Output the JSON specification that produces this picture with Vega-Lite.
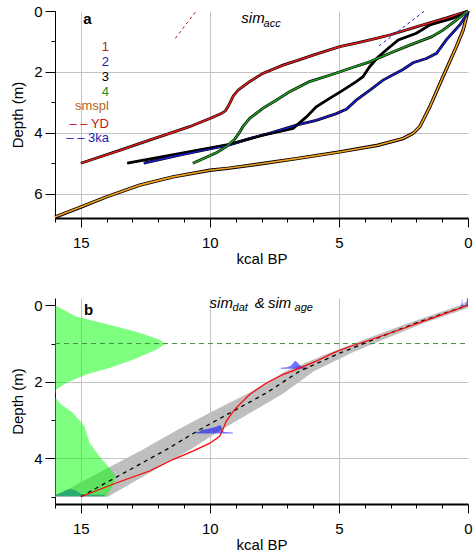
{
"$schema": "https://vega.github.io/schema/vega-lite/v6.json",
"padding": {"left": 10, "top": 4, "right": 0, "bottom": 0},
"spacing": 29,
"config": {
  "font": "Liberation Sans",
  "view": {"stroke": null},
  "axis": {"domainColor": "#000", "tickColor": "#000", "labelColor": "#000", "titleColor": "#000", "labelFontSize": 15, "titleFontSize": 15, "titleFontWeight": "normal", "gridColor": "#c4c4c4", "labelOverlap": false, "labelFlush": false}
},
"datasets": {
  "smspl": [
    {"age": 0, "depth": 0}, {"age": 0.19, "depth": 0.63}, {"age": 0.45, "depth": 1.17}, {"age": 0.97, "depth": 2.16}, {"age": 1.48, "depth": 3.15}, {"age": 1.87, "depth": 3.8}, {"age": 2.13, "depth": 4.02}, {"age": 2.52, "depth": 4.19}, {"age": 3.49, "depth": 4.41}, {"age": 4.97, "depth": 4.63}, {"age": 6.65, "depth": 4.85}, {"age": 7.95, "depth": 5.01}, {"age": 9.24, "depth": 5.16}, {"age": 10.0, "depth": 5.23}, {"age": 11.43, "depth": 5.45}, {"age": 12.72, "depth": 5.72}, {"age": 14.02, "depth": 6.11}, {"age": 15.0, "depth": 6.44}, {"age": 16.0, "depth": 6.77}
  ],
  "acc": [
    {"s": "1", "age": 0, "depth": 0}, {"s": "1", "age": 0.8, "depth": 0.22}, {"s": "1", "age": 2.0, "depth": 0.52}, {"s": "1", "age": 3.0, "depth": 0.78}, {"s": "1", "age": 3.55, "depth": 0.9}, {"s": "1", "age": 4.3, "depth": 1.05}, {"s": "1", "age": 4.97, "depth": 1.17}, {"s": "1", "age": 6.0, "depth": 1.45}, {"s": "1", "age": 6.6, "depth": 1.62}, {"s": "1", "age": 7.17, "depth": 1.78}, {"s": "1", "age": 7.95, "depth": 2.05}, {"s": "1", "age": 8.46, "depth": 2.32}, {"s": "1", "age": 8.75, "depth": 2.5}, {"s": "1", "age": 8.91, "depth": 2.6}, {"s": "1", "age": 9.1, "depth": 2.8}, {"s": "1", "age": 9.17, "depth": 2.93}, {"s": "1", "age": 9.3, "depth": 3.15}, {"s": "1", "age": 9.4, "depth": 3.28}, {"s": "1", "age": 9.56, "depth": 3.37}, {"s": "1", "age": 10.0, "depth": 3.53}, {"s": "1", "age": 10.79, "depth": 3.8}, {"s": "1", "age": 11.56, "depth": 4.02}, {"s": "1", "age": 12.34, "depth": 4.24}, {"s": "1", "age": 13.5, "depth": 4.58}, {"s": "1", "age": 15.0, "depth": 5.0},
    {"s": "2", "age": 0, "depth": 0}, {"s": "2", "age": 0.06, "depth": 0.13}, {"s": "2", "age": 0.32, "depth": 0.46}, {"s": "2", "age": 0.84, "depth": 0.95}, {"s": "2", "age": 1.22, "depth": 1.39}, {"s": "2", "age": 1.61, "depth": 1.56}, {"s": "2", "age": 2.13, "depth": 1.7}, {"s": "2", "age": 2.52, "depth": 1.92}, {"s": "2", "age": 3.29, "depth": 2.27}, {"s": "2", "age": 3.8, "depth": 2.6}, {"s": "2", "age": 4.33, "depth": 2.93}, {"s": "2", "age": 4.7, "depth": 3.22}, {"s": "2", "age": 5.1, "depth": 3.37}, {"s": "2", "age": 5.88, "depth": 3.59}, {"s": "2", "age": 6.65, "depth": 3.75}, {"s": "2", "age": 7.69, "depth": 4.02}, {"s": "2", "age": 8.46, "depth": 4.19}, {"s": "2", "age": 9.24, "depth": 4.4}, {"s": "2", "age": 11.05, "depth": 4.71}, {"s": "2", "age": 12.56, "depth": 5.0},
    {"s": "3", "age": 0, "depth": 0}, {"s": "3", "age": 0.58, "depth": 0.24}, {"s": "3", "age": 1.48, "depth": 0.46}, {"s": "3", "age": 2.0, "depth": 0.73}, {"s": "3", "age": 2.7, "depth": 0.95}, {"s": "3", "age": 3.1, "depth": 1.23}, {"s": "3", "age": 3.5, "depth": 1.53}, {"s": "3", "age": 3.81, "depth": 1.83}, {"s": "3", "age": 4.07, "depth": 2.16}, {"s": "3", "age": 4.33, "depth": 2.32}, {"s": "3", "age": 4.84, "depth": 2.6}, {"s": "3", "age": 5.36, "depth": 2.87}, {"s": "3", "age": 5.88, "depth": 3.15}, {"s": "3", "age": 6.26, "depth": 3.48}, {"s": "3", "age": 6.78, "depth": 3.86}, {"s": "3", "age": 7.95, "depth": 4.08}, {"s": "3", "age": 9.24, "depth": 4.38}, {"s": "3", "age": 13.2, "depth": 5.0},
    {"s": "4", "age": 0, "depth": 0}, {"s": "4", "age": 0.58, "depth": 0.38}, {"s": "4", "age": 0.97, "depth": 0.63}, {"s": "4", "age": 1.42, "depth": 0.85}, {"s": "4", "age": 2.26, "depth": 1.12}, {"s": "4", "age": 3.03, "depth": 1.39}, {"s": "4", "age": 3.81, "depth": 1.67}, {"s": "4", "age": 4.59, "depth": 1.89}, {"s": "4", "age": 5.36, "depth": 2.11}, {"s": "4", "age": 6.14, "depth": 2.32}, {"s": "4", "age": 6.91, "depth": 2.65}, {"s": "4", "age": 7.43, "depth": 2.93}, {"s": "4", "age": 7.95, "depth": 3.2}, {"s": "4", "age": 8.46, "depth": 3.53}, {"s": "4", "age": 8.72, "depth": 3.8}, {"s": "4", "age": 8.88, "depth": 4.02}, {"s": "4", "age": 9.05, "depth": 4.22}, {"s": "4", "age": 9.35, "depth": 4.45}, {"s": "4", "age": 9.75, "depth": 4.66}, {"s": "4", "age": 10.66, "depth": 5.0}
  ],
  "yd": [{"age": 10.53, "depth": 0}, {"age": 11.34, "depth": 0.9}],
  "ka3": [{"age": 1.7, "depth": 0.01}, {"age": 3.45, "depth": 1.15}],
  "leg": [
    {"s": "1", "label": "1", "age": 13.91, "depth": 1.30},
    {"s": "2", "label": "2", "age": 13.91, "depth": 1.81},
    {"s": "3", "label": "3", "age": 13.91, "depth": 2.30},
    {"s": "4", "label": "4", "age": 13.91, "depth": 2.80},
    {"s": "smspl", "label": "smspl", "age": 13.91, "depth": 3.26},
    {"s": "YD", "label": "– – YD", "age": 13.91, "depth": 3.83},
    {"s": "3ka", "label": "– – 3ka", "age": 13.91, "depth": 4.31}
  ],
  "band": [
    {"depth": -0.1, "age": 0.05, "age2": -0.5}, {"depth": 0, "age": 0.3, "age2": -0.3}, {"depth": 0.46, "age": 2.3, "age2": 1.7}, {"depth": 0.9, "age": 4.05, "age2": 3.3}, {"depth": 1.25, "age": 5.4, "age2": 4.54}, {"depth": 1.72, "age": 7.07, "age2": 5.97}, {"depth": 2.29, "age": 8.49, "age2": 7.13}, {"depth": 2.77, "age": 9.89, "age2": 8.33}, {"depth": 3.25, "age": 11.25, "age2": 9.55}, {"depth": 3.77, "age": 12.61, "age2": 10.77}, {"depth": 4.25, "age": 13.96, "age2": 12.0}, {"depth": 4.73, "age": 15.3, "age2": 13.26}, {"depth": 5.0, "age": 16.05, "age2": 13.95}
  ],
  "green": [
    {"age": 16.0, "depth": 0}, {"age": 15.19, "depth": 0.29}, {"age": 13.89, "depth": 0.51}, {"age": 12.72, "depth": 0.72}, {"age": 11.95, "depth": 0.9}, {"age": 11.73, "depth": 1.01}, {"age": 12.08, "depth": 1.16}, {"age": 12.98, "depth": 1.42}, {"age": 13.89, "depth": 1.64}, {"age": 14.79, "depth": 1.81}, {"age": 15.57, "depth": 2.03}, {"age": 15.95, "depth": 2.2}, {"age": 16.0, "depth": 2.38}, {"age": 15.83, "depth": 2.55}, {"age": 15.31, "depth": 2.81}, {"age": 14.86, "depth": 3.16}, {"age": 14.66, "depth": 3.6}, {"age": 14.28, "depth": 3.94}, {"age": 13.89, "depth": 4.25}, {"age": 13.69, "depth": 4.42}, {"age": 13.69, "depth": 4.64}, {"age": 13.89, "depth": 4.86}, {"age": 14.02, "depth": 4.99}
  ],
  "dates": [
    {"id": "d0", "base": 0.02, "age": 0.3, "depth": 0.0}, {"id": "d0", "base": 0.02, "age": 0.25, "depth": 0.0}, {"id": "d0", "base": 0.02, "age": 0.24, "depth": -0.15}, {"id": "d0", "base": 0.02, "age": 0.22, "depth": -0.15}, {"id": "d0", "base": 0.02, "age": 0.21, "depth": 0.0}, {"id": "d0", "base": 0.02, "age": 0.1, "depth": 0.0}, {"id": "d0", "base": 0.02, "age": 0.06, "depth": -0.04}, {"id": "d0", "base": 0.02, "age": 0.04, "depth": -0.19}, {"id": "d0", "base": 0.02, "age": 0.0, "depth": -0.19},
    {"id": "d1", "base": 1.66, "age": 7.25, "depth": 1.63}, {"id": "d1", "base": 1.66, "age": 7.0, "depth": 1.62}, {"id": "d1", "base": 1.66, "age": 6.85, "depth": 1.57}, {"id": "d1", "base": 1.66, "age": 6.75, "depth": 1.49}, {"id": "d1", "base": 1.66, "age": 6.68, "depth": 1.45}, {"id": "d1", "base": 1.66, "age": 6.6, "depth": 1.5}, {"id": "d1", "base": 1.66, "age": 6.5, "depth": 1.58}, {"id": "d1", "base": 1.66, "age": 6.4, "depth": 1.62}, {"id": "d1", "base": 1.66, "age": 6.2, "depth": 1.63},
    {"id": "d2", "base": 3.35, "age": 10.53, "depth": 3.31}, {"id": "d2", "base": 3.35, "age": 10.42, "depth": 3.3}, {"id": "d2", "base": 3.35, "age": 10.3, "depth": 3.25}, {"id": "d2", "base": 3.35, "age": 10.1, "depth": 3.23}, {"id": "d2", "base": 3.35, "age": 9.9, "depth": 3.2}, {"id": "d2", "base": 3.35, "age": 9.75, "depth": 3.17}, {"id": "d2", "base": 3.35, "age": 9.62, "depth": 3.13}, {"id": "d2", "base": 3.35, "age": 9.55, "depth": 3.17}, {"id": "d2", "base": 3.35, "age": 9.5, "depth": 3.28}, {"id": "d2", "base": 3.35, "age": 9.45, "depth": 3.31}, {"id": "d2", "base": 3.35, "age": 9.11, "depth": 3.32},
    {"id": "d3", "base": 4.99, "age": 16.0, "depth": 4.95}, {"id": "d3", "base": 4.99, "age": 15.8, "depth": 4.9}, {"id": "d3", "base": 4.99, "age": 15.6, "depth": 4.84}, {"id": "d3", "base": 4.99, "age": 15.4, "depth": 4.8}, {"id": "d3", "base": 4.99, "age": 15.2, "depth": 4.83}, {"id": "d3", "base": 4.99, "age": 15.05, "depth": 4.9}, {"id": "d3", "base": 4.99, "age": 14.9, "depth": 4.95}, {"id": "d3", "base": 4.99, "age": 14.08, "depth": 4.95}
  ],
  "center": [
    {"age": 0, "depth": 0}, {"age": 2.0, "depth": 0.46}, {"age": 3.68, "depth": 0.9}, {"age": 4.97, "depth": 1.25}, {"age": 6.52, "depth": 1.72}, {"age": 7.81, "depth": 2.29}, {"age": 9.11, "depth": 2.77}, {"age": 10.4, "depth": 3.25}, {"age": 11.69, "depth": 3.77}, {"age": 12.98, "depth": 4.25}, {"age": 14.28, "depth": 4.73}, {"age": 15.0, "depth": 5.0}
  ],
  "redb": [
    {"age": 0.0, "depth": 0.0}, {"age": 1.36, "depth": 0.33}, {"age": 2.65, "depth": 0.64}, {"age": 3.94, "depth": 0.94}, {"age": 4.71, "depth": 1.11}, {"age": 5.23, "depth": 1.25}, {"age": 5.88, "depth": 1.46}, {"age": 6.52, "depth": 1.64}, {"age": 7.17, "depth": 1.81}, {"age": 7.81, "depth": 2.03}, {"age": 8.46, "depth": 2.33}, {"age": 8.98, "depth": 2.68}, {"age": 9.2, "depth": 2.87}, {"age": 9.36, "depth": 3.02}, {"age": 9.5, "depth": 3.25}, {"age": 9.62, "depth": 3.42}, {"age": 10.0, "depth": 3.6}, {"age": 10.66, "depth": 3.81}, {"age": 11.43, "depth": 4.03}, {"age": 12.34, "depth": 4.33}, {"age": 13.63, "depth": 4.64}, {"age": 15.0, "depth": 5.0}
  ],
  "hline": [{"age": 16, "depth": 1.0}, {"age": 0, "depth": 1.0}]
},
"vconcat": [
  {
    "width": 413, "height": 207,
    "encoding": {
      "x": {"field": "age", "type": "quantitative",
        "scale": {"domain": [0, 16], "reverse": true, "nice": false, "zero": false},
        "axis": {"title": "kcal BP", "values": [0,1,2,3,4,5,6,7,8,9,10,11,12,13,14,15,16],
          "labelExpr": "datum.value % 5 === 0 ? datum.label : ''",
          "tickSize": {"condition": {"test": "datum.value % 5 === 0", "value": 9}, "value": 4},
          "gridOpacity": {"condition": {"test": "datum.value % 5 === 0 && datum.value > 0", "value": 1}, "value": 0},
          "domainWidth": 2, "labelPadding": 8, "titlePadding": 1}},
      "y": {"field": "depth", "type": "quantitative",
        "scale": {"domain": [0, 6.8], "reverse": true, "nice": false, "zero": false},
        "axis": {"title": "Depth (m)", "values": [0,1,2,3,4,5,6],
          "labelExpr": "datum.value % 2 === 0 ? datum.label : ''",
          "tickSize": {"condition": {"test": "datum.value % 2 === 0", "value": 10}, "value": 4},
          "gridOpacity": {"condition": {"test": "datum.value % 2 === 0 && datum.value > 0", "value": 1}, "value": 0},
          "labelPadding": 3, "titlePadding": 8}}
    },
    "resolve": {"scale": {"color": "independent"}},
    "layer": [
      {"data": {"name": "smspl"}, "mark": {"type": "line", "color": "#000000", "strokeWidth": 3.4}},
      {"data": {"name": "smspl"}, "mark": {"type": "line", "color": "#F4A11E", "strokeWidth": 1.6}},
      {"data": {"name": "acc"}, "mark": {"type": "line", "color": "#000000", "strokeWidth": 2.8}, "encoding": {"detail": {"field": "s", "type": "nominal"}}},
      {"data": {"name": "acc"}, "mark": {"type": "line", "strokeWidth": 1.6},
        "encoding": {"color": {"field": "s", "type": "nominal", "scale": {"domain": ["1","2","3","4"], "range": ["#E01B1B","#1A1ACF","#000000","#1E9E1E"]}, "legend": null}}},
      {"data": {"name": "yd"}, "mark": {"type": "line", "color": "#C01818", "strokeWidth": 1, "strokeDash": [3, 3]}},
      {"data": {"name": "ka3"}, "mark": {"type": "line", "color": "#2020B8", "strokeWidth": 1, "strokeDash": [3, 3]}},
      {"data": {"name": "leg"}, "mark": {"type": "text", "align": "right", "baseline": "alphabetic", "fontSize": 13},
        "encoding": {"text": {"field": "label"}, "color": {"field": "s", "type": "nominal", "scale": {"domain": ["1","2","3","4","smspl","YD","3ka"], "range": ["#B22222","#1A1AA0","#000000","#228B22","#B8641E","#C81414","#1E1EB4"]}, "legend": null}}},
      {"data": {"values": [{"age": 14.74, "depth": 0.43, "label": "a"}]}, "mark": {"type": "text", "fontWeight": "bold", "fontSize": 15, "baseline": "alphabetic", "align": "center", "color": "#000"}, "encoding": {"text": {"field": "label"}}},
      {"data": {"values": [{"age": 8.78, "depth": 0.40, "label": "sim"}]}, "mark": {"type": "text", "fontStyle": "italic", "fontSize": 15, "baseline": "alphabetic", "align": "left", "color": "#000"}, "encoding": {"text": {"field": "label"}}},
      {"data": {"values": [{"age": 7.92, "depth": 0.51, "label": "acc"}]}, "mark": {"type": "text", "fontStyle": "italic", "fontSize": 11, "baseline": "alphabetic", "align": "left", "color": "#000"}, "encoding": {"text": {"field": "label"}}}
    ]
  },
  {
    "width": 413, "height": 206,
    "encoding": {
      "x": {"field": "age", "type": "quantitative",
        "scale": {"domain": [0, 16], "reverse": true, "nice": false, "zero": false},
        "axis": {"title": "kcal BP", "values": [0,1,2,3,4,5,6,7,8,9,10,11,12,13,14,15,16],
          "labelExpr": "datum.value % 5 === 0 ? datum.label : ''",
          "tickSize": {"condition": {"test": "datum.value % 5 === 0", "value": 9}, "value": 4},
          "gridOpacity": {"condition": {"test": "datum.value % 5 === 0 && datum.value > 0", "value": 1}, "value": 0},
          "domainWidth": 2, "labelPadding": 8, "titlePadding": 1}},
      "y": {"field": "depth", "type": "quantitative",
        "scale": {"domain": [-0.19, 5.19], "reverse": true, "nice": false, "zero": false},
        "axis": {"title": "Depth (m)", "values": [0,1,2,3,4,5],
          "labelExpr": "datum.value % 2 === 0 ? datum.label : ''",
          "tickSize": {"condition": {"test": "datum.value % 2 === 0", "value": 10}, "value": 4},
          "gridOpacity": {"condition": {"test": "datum.value % 2 === 0 && datum.value > 0", "value": 1}, "value": 0},
          "labelPadding": 3, "titlePadding": 8}}
    },
    "layer": [
      {"data": {"name": "band"}, "mark": {"type": "area", "orient": "horizontal", "color": "#BEBEBE", "clip": true}, "encoding": {"x2": {"field": "age2"}}},
      {"data": {"name": "dates"}, "mark": {"type": "area", "orient": "vertical", "color": "#0000FF", "opacity": 0.55}, "encoding": {"y2": {"field": "base"}, "detail": {"field": "id", "type": "nominal"}}},
      {"data": {"name": "green"}, "mark": {"type": "area", "orient": "horizontal", "color": "#00FF00", "opacity": 0.5}, "encoding": {"x2": {"datum": 16}}},
      {"data": {"name": "hline"}, "mark": {"type": "line", "color": "#3C8C3C", "strokeWidth": 1, "strokeDash": [5, 4]}},
      {"data": {"name": "center"}, "mark": {"type": "line", "color": "#000000", "strokeWidth": 1.3, "strokeDash": [4, 4]}},
      {"data": {"name": "redb"}, "mark": {"type": "line", "color": "#FF0000", "strokeWidth": 1.2}},
      {"data": {"values": [{"age": 14.7, "depth": 0.25, "label": "b"}]}, "mark": {"type": "text", "fontWeight": "bold", "fontSize": 15, "baseline": "alphabetic", "align": "center", "color": "#000"}, "encoding": {"text": {"field": "label"}}},
      {"data": {"values": [{"age": 10.01, "depth": 0.07, "label": "sim"}, {"age": 8.26, "depth": 0.07, "label": "&"}, {"age": 7.75, "depth": 0.07, "label": "sim"}]}, "mark": {"type": "text", "fontStyle": "italic", "fontSize": 15, "baseline": "alphabetic", "align": "left", "color": "#000"}, "encoding": {"text": {"field": "label"}}},
      {"data": {"values": [{"age": 9.12, "depth": 0.14, "label": "dat"}, {"age": 6.72, "depth": 0.14, "label": "age"}]}, "mark": {"type": "text", "fontStyle": "italic", "fontSize": 11, "baseline": "alphabetic", "align": "left", "color": "#000"}, "encoding": {"text": {"field": "label"}}}
    ]
  }
]
}
